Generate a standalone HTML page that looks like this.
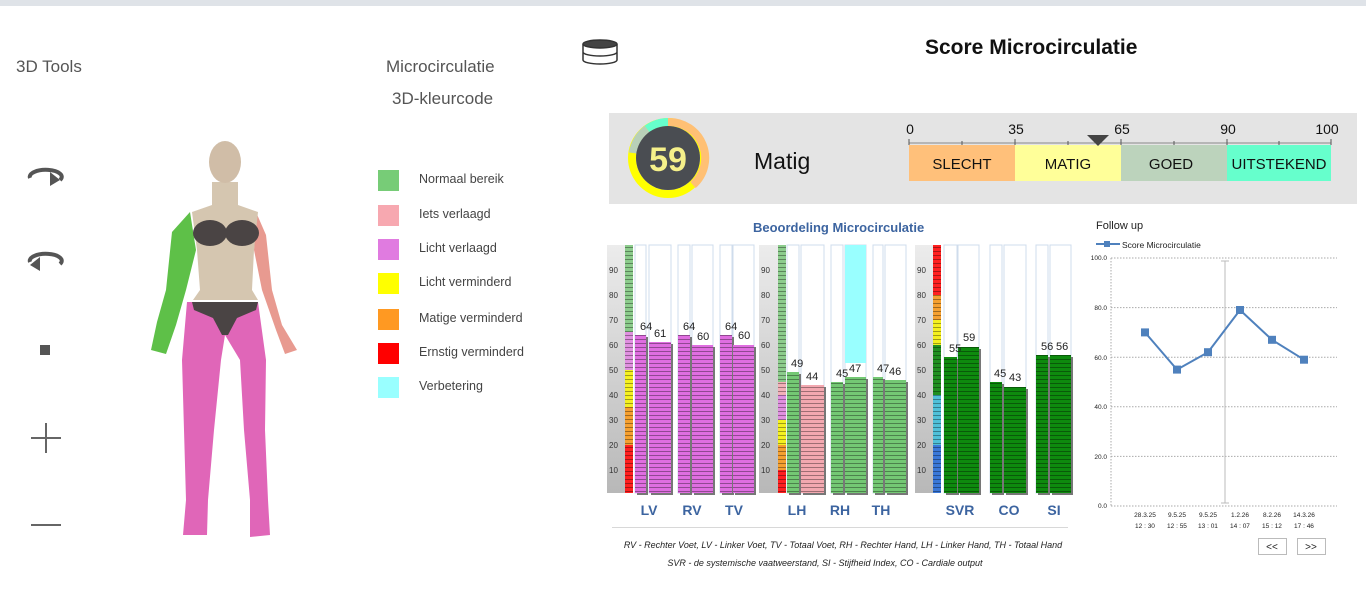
<!DOCTYPE html>
<html><head><meta charset="utf-8">
<style>
*{margin:0;padding:0;box-sizing:border-box}
body{width:1366px;height:593px;overflow:hidden;background:#fff;font-family:"Liberation Sans",sans-serif;position:relative}
.a{position:absolute;white-space:nowrap}
.lg{position:absolute;left:378px;width:21px;height:21px}
.lt{position:absolute;left:419px;font-size:12.5px;color:#444}
</style></head><body>
<div class="a" style="left:0;top:0;width:1366px;height:6px;background:#dfe3e8"></div>
<div class="a" style="left:16px;top:57px;font-size:17px;color:#555">3D Tools</div>
<div class="a" style="left:386px;top:57px;font-size:17px;color:#555">Microcirculatie</div>
<div class="a" style="left:392px;top:89px;font-size:17px;color:#555">3D-kleurcode</div>

<div class="lg" style="top:170px;background:#77cc77"></div><div class="lt" style="top:172px">Normaal bereik</div>
<div class="lg" style="top:205px;background:#f7a8b0"></div><div class="lt" style="top:207px">Iets verlaagd</div>
<div class="lg" style="top:239px;background:#e07be0"></div><div class="lt" style="top:241px">Licht verlaagd</div>
<div class="lg" style="top:273px;background:#ffff00"></div><div class="lt" style="top:275px">Licht verminderd</div>
<div class="lg" style="top:309px;background:#ff9922"></div><div class="lt" style="top:311px">Matige verminderd</div>
<div class="lg" style="top:343px;background:#ff0000"></div><div class="lt" style="top:345px">Ernstig verminderd</div>
<div class="lg" style="top:377px;background:#99ffff"></div><div class="lt" style="top:379px">Verbetering</div>

<svg class="a" style="left:0;top:0" width="640" height="593">
 <g fill="none" stroke="#555" stroke-width="4">
  <path d="M30 178 A16 7 0 1 1 60 180"/><path d="M30 262 A16 7 0 1 1 60 264"/>
 </g>
 <path d="M50 172 l10 8 l-10 6z" fill="#555"/><path d="M40 257 l-10 8 l10 6z" fill="#555"/>
 <rect x="40" y="345" width="10" height="10" fill="#555"/>
 <path d="M31 438 h30 M46 423 v30 M31 525 h30" stroke="#666" stroke-width="2"/>
 <!-- body -->
 <path d="M187 302 L258 302 L266 360 L265 430 L268 500 L270 535 L250 537 L250 500 L244 430 L240 360 L225 335 L221 360 L214 430 L208 500 L207 535 L183 535 L186 500 L184 430 L182 360Z" fill="#e066b8"/>
 <path d="M190 212 L172 232 L166 290 L157 322 L151 350 L166 354 L176 325 L186 290 L196 250Z" fill="#5ec048"/>
 <path d="M256 212 L266 235 L272 290 L282 325 L297 350 L285 354 L276 330 L262 290 L254 250Z" fill="#e89a90"/>
 <path d="M212 182 L212 205 L192 212 L197 250 L200 290 L193 300 L258 300 L252 290 L254 250 L258 212 L238 205 L238 182Z" fill="#d5c6b0"/>
 <ellipse cx="225" cy="162" rx="16" ry="21" fill="#d0bda7"/>
 <ellipse cx="210" cy="233" rx="17" ry="13" fill="#4a4444"/><ellipse cx="242" cy="233" rx="17" ry="13" fill="#4a4444"/>
 <path d="M192 302 L258 302 L256 310 L237 318 L228 335 L222 335 L213 318 L194 310Z" fill="#4a4444"/>
 <!-- stack icon -->
 <g fill="none" stroke="#333" stroke-width="1.5"><ellipse cx="600" cy="44" rx="17" ry="4" fill="#444"/><path d="M583 44 v8 a17 4 0 0 0 34 0 v-8 M583 52 v8 a17 4 0 0 0 34 0 v-8"/></g>
</svg>

<div class="a" style="left:925px;top:36px;font-size:21px;font-weight:bold;color:#111">Score Microcirculatie</div>

<div class="a" style="left:609px;top:113px;width:748px;height:91px;background:#e4e4e4"></div>
<svg class="a" style="left:609px;top:113px" width="748" height="91">
 <circle cx="59" cy="45" r="36" fill="none" stroke="#ffff00" stroke-width="8"/>
 <path d="M59 9 A36 36 0 0 1 84 72" fill="none" stroke="#ffc074" stroke-width="8"/>
 <path d="M38 16 A36 36 0 0 1 59 9" fill="none" stroke="#66ffcc" stroke-width="8"/>
 <path d="M24 40 A36 36 0 0 1 38 16" fill="none" stroke="#b8d0b8" stroke-width="8"/>
 <circle cx="59" cy="45" r="32" fill="#4a4d52"/>
 <text x="59" y="58" text-anchor="middle" font-size="34" font-weight="bold" fill="#f5f08a" font-family="Liberation Sans">59</text>
 <text x="145" y="56" font-size="23" fill="#111" font-family="Liberation Sans">Matig</text>
 <rect x="300" y="32" width="106" height="36" fill="#ffc07a"/>
 <rect x="406" y="32" width="106" height="36" fill="#ffff99"/>
 <rect x="512" y="32" width="106" height="36" fill="#bcd3bc"/>
 <rect x="618" y="32" width="104" height="36" fill="#66ffcc"/>
 <g font-family="Liberation Sans" font-size="15" fill="#111" text-anchor="middle">
  <text x="353" y="56">SLECHT</text><text x="459" y="56">MATIG</text><text x="562" y="56">GOED</text><text x="670" y="56">UITSTEKEND</text>
 </g>
 <path d="M300 30 H722" stroke="#888"/>
 <g stroke="#555"><path d="M300 26v6M353 28v4M406 26v6M459 28v4M512 26v6M565 28v4M618 26v6M670 28v4M722 26v6"/></g>
 <g font-family="Liberation Sans" font-size="14" fill="#111" text-anchor="middle">
  <text x="301" y="21">0</text><text x="407" y="21">35</text><text x="513" y="21">65</text><text x="619" y="21">90</text><text x="718" y="21">100</text>
 </g>
 <path d="M478 22 h22 l-11 11z" fill="#444"/>
</svg>

<div class="a" style="left:753px;top:220px;font-size:13px;font-weight:bold;color:#3c64a0">Beoordeling Microcirculatie</div>

<svg class="a" style="left:0;top:0" width="1366" height="593" font-family="Liberation Sans">
 <defs>
  <pattern id="st" width="4" height="4" patternUnits="userSpaceOnUse"><rect width="4" height="4" fill="none"/><rect y="3" width="4" height="1" fill="#000" opacity="0.35"/></pattern>
  <linearGradient id="gp" x1="0" x2="0" y1="0" y2="1"><stop offset="0" stop-color="#ececec"/><stop offset="1" stop-color="#b8b8b8"/></linearGradient>
 </defs>
 <rect x="607" y="245" width="18" height="248" fill="url(#gp)"/>
 <rect x="759" y="245" width="19" height="248" fill="url(#gp)"/>
 <rect x="915" y="245" width="18" height="248" fill="url(#gp)"/>
 <rect x="625" y="445" width="8" height="48" fill="#ff2020"/>
 <rect x="625" y="407" width="8" height="38" fill="#f5a030"/>
 <rect x="625" y="370" width="8" height="37" fill="#f4f020"/>
 <rect x="625" y="332" width="8" height="38" fill="#e090e0"/>
 <rect x="625" y="245" width="8" height="87" fill="#8ccc8c"/>
 <rect x="625" y="245" width="8" height="248" fill="url(#st)"/>
 <rect x="778" y="470" width="8" height="23" fill="#ff2020"/>
 <rect x="778" y="445" width="8" height="25" fill="#f5a030"/>
 <rect x="778" y="420" width="8" height="25" fill="#f4f020"/>
 <rect x="778" y="395" width="8" height="25" fill="#e090e0"/>
 <rect x="778" y="382" width="8" height="13" fill="#f3b0b8"/>
 <rect x="778" y="245" width="8" height="137" fill="#8ccc8c"/>
 <rect x="778" y="245" width="8" height="248" fill="url(#st)"/>
 <rect x="933" y="445" width="8" height="48" fill="#3a78d8"/>
 <rect x="933" y="395" width="8" height="50" fill="#50c0d8"/>
 <rect x="933" y="345" width="8" height="50" fill="#209020"/>
 <rect x="933" y="320" width="8" height="25" fill="#f4f020"/>
 <rect x="933" y="295" width="8" height="25" fill="#f5a030"/>
 <rect x="933" y="245" width="8" height="50" fill="#ff2020"/>
 <rect x="933" y="245" width="8" height="248" fill="url(#st)"/>
 <g font-size="8" fill="#333">
  <g id="tk"><text x="609" y="273">90</text><text x="609" y="298">80</text><text x="609" y="323">70</text><text x="609" y="348">60</text><text x="609" y="373">50</text><text x="609" y="398">40</text><text x="609" y="423">30</text><text x="609" y="448">20</text><text x="609" y="473">10</text></g>
  <use href="#tk" x="152"/><use href="#tk" x="308"/>
 </g>
 <g fill="#fff" stroke="#cfdcec">
  <rect x="635" y="245" width="11" height="248"/><rect x="649" y="245" width="22" height="248"/>
  <rect x="678" y="245" width="12" height="248"/><rect x="692" y="245" width="21" height="248"/>
  <rect x="720" y="245" width="12" height="248"/><rect x="733" y="245" width="21" height="248"/>
  <rect x="787" y="245" width="12" height="248"/><rect x="801" y="245" width="23" height="248"/>
  <rect x="831" y="245" width="12" height="248"/><rect x="845" y="245" width="21" height="248"/>
  <rect x="873" y="245" width="10" height="248"/><rect x="885" y="245" width="21" height="248"/>
  <rect x="944" y="245" width="13" height="248"/><rect x="958" y="245" width="21" height="248"/>
  <rect x="990" y="245" width="12" height="248"/><rect x="1004" y="245" width="22" height="248"/>
  <rect x="1036" y="245" width="12" height="248"/><rect x="1050" y="245" width="21" height="248"/>
 </g>
 <rect x="845" y="245" width="21" height="118" fill="#99ffff"/>
 <g>
  <g fill="#777" transform="translate(2,2)">
   <rect x="635" y="335" width="11" height="158"/><rect x="649" y="342" width="22" height="151"/>
   <rect x="678" y="335" width="12" height="158"/><rect x="692" y="345" width="21" height="148"/>
   <rect x="720" y="335" width="12" height="158"/><rect x="733" y="345" width="21" height="148"/>
   <rect x="787" y="372" width="12" height="121"/><rect x="801" y="385" width="23" height="108"/>
   <rect x="831" y="382" width="12" height="111"/><rect x="845" y="377" width="21" height="116"/>
   <rect x="873" y="377" width="10" height="116"/><rect x="885" y="380" width="21" height="113"/>
   <rect x="944" y="357" width="13" height="136"/><rect x="958" y="347" width="21" height="146"/>
   <rect x="990" y="382" width="12" height="111"/><rect x="1004" y="387" width="22" height="106"/>
   <rect x="1036" y="355" width="12" height="138"/><rect x="1050" y="355" width="21" height="138"/>
  </g>
  <g fill="#df6ee0"><rect x="635" y="335" width="11" height="158"/><rect x="649" y="342" width="22" height="151"/>
   <rect x="678" y="335" width="12" height="158"/><rect x="692" y="345" width="21" height="148"/>
   <rect x="720" y="335" width="12" height="158"/><rect x="733" y="345" width="21" height="148"/></g>
  <g fill="#74c874"><rect x="787" y="372" width="12" height="121"/>
   <rect x="831" y="382" width="12" height="111"/><rect x="845" y="377" width="21" height="116"/>
   <rect x="873" y="377" width="10" height="116"/><rect x="885" y="380" width="21" height="113"/></g>
  <rect x="801" y="385" width="23" height="108" fill="#f3a8b0"/>
  <g fill="#0e8a0e"><rect x="944" y="357" width="13" height="136"/><rect x="958" y="347" width="21" height="146"/>
   <rect x="990" y="382" width="12" height="111"/><rect x="1004" y="387" width="22" height="106"/>
   <rect x="1036" y="355" width="12" height="138"/><rect x="1050" y="355" width="21" height="138"/></g>
 </g>
 <g fill="url(#st)">
   <rect x="635" y="335" width="11" height="158"/><rect x="649" y="342" width="22" height="151"/>
   <rect x="678" y="335" width="12" height="158"/><rect x="692" y="345" width="21" height="148"/>
   <rect x="720" y="335" width="12" height="158"/><rect x="733" y="345" width="21" height="148"/>
   <rect x="787" y="372" width="12" height="121"/><rect x="801" y="385" width="23" height="108"/>
   <rect x="831" y="382" width="12" height="111"/><rect x="845" y="377" width="21" height="116"/>
   <rect x="873" y="377" width="10" height="116"/><rect x="885" y="380" width="21" height="113"/>
   <rect x="944" y="357" width="13" height="136"/><rect x="958" y="347" width="21" height="146"/>
   <rect x="990" y="382" width="12" height="111"/><rect x="1004" y="387" width="22" height="106"/>
   <rect x="1036" y="355" width="12" height="138"/><rect x="1050" y="355" width="21" height="138"/>
 </g>
 <g font-size="11" fill="#222">
  <text x="640" y="330">64</text><text x="654" y="337">61</text>
  <text x="683" y="330">64</text><text x="697" y="340">60</text>
  <text x="725" y="330">64</text><text x="738" y="339">60</text>
  <text x="791" y="367">49</text><text x="806" y="380">44</text>
  <text x="836" y="377">45</text><text x="849" y="372">47</text>
  <text x="877" y="372">47</text><text x="889" y="375">46</text>
  <text x="949" y="352">55</text><text x="963" y="341">59</text>
  <text x="994" y="377">45</text><text x="1009" y="381">43</text>
  <text x="1041" y="350">56</text><text x="1056" y="350">56</text>
 </g>
 <g font-size="14" font-weight="bold" fill="#3c64a0" text-anchor="middle">
  <text x="649" y="515">LV</text><text x="692" y="515">RV</text><text x="734" y="515">TV</text>
  <text x="797" y="515">LH</text><text x="840" y="515">RH</text><text x="881" y="515">TH</text>
  <text x="960" y="515">SVR</text><text x="1009" y="515">CO</text><text x="1054" y="515">SI</text>
 </g>
 <path d="M612 527.5 H1068" stroke="#d8d8d8"/>
 <g font-size="9" font-style="italic" fill="#222" text-anchor="middle">
  <text x="843" y="548">RV - Rechter Voet, LV - Linker Voet, TV - Totaal Voet, RH - Rechter Hand, LH - Linker Hand, TH - Totaal Hand</text>
  <text x="825" y="566">SVR - de systemische vaatweerstand,      SI - Stijfheid Index,      CO - Cardiale output</text>
 </g>

 <text x="1096" y="229" font-size="11" fill="#222">Follow up</text>
 <path d="M1096 244 H1120" stroke="#4f81bd" stroke-width="2"/><rect x="1104" y="241" width="6" height="6" fill="#4f81bd"/>
 <text x="1122" y="248" font-size="8.5" fill="#222">Score Microcirculatie</text>
 <g stroke="#aaa" stroke-dasharray="1.5 1.5">
  <path d="M1111 258H1337M1111 307.6H1337M1111 357.2H1337M1111 406.8H1337M1111 456.4H1337M1111 506H1337M1111 258V506"/>
 </g>
 <g font-size="6.5" fill="#222" text-anchor="end">
  <text x="1107" y="260">100.0</text><text x="1107" y="310">80.0</text><text x="1107" y="360">60.0</text><text x="1107" y="409">40.0</text><text x="1107" y="459">20.0</text><text x="1107" y="508">0.0</text>
 </g>
 <path d="M1225 261V503M1221 261h8M1221 503h8" stroke="#bbb"/>
 <polyline points="1145,332.4 1177,369.6 1208,352.2 1240,310 1272,339.8 1304,359.7" fill="none" stroke="#4f81bd" stroke-width="2"/>
 <g fill="#4f81bd"><rect x="1141" y="328.4" width="8" height="8"/><rect x="1173" y="365.6" width="8" height="8"/><rect x="1204" y="348.2" width="8" height="8"/><rect x="1236" y="306" width="8" height="8"/><rect x="1268" y="335.8" width="8" height="8"/><rect x="1300" y="355.7" width="8" height="8"/></g>
 <g font-size="6.5" fill="#222" text-anchor="middle">
  <text x="1145" y="517">28.3.25</text><text x="1177" y="517">9.5.25</text><text x="1208" y="517">9.5.25</text><text x="1240" y="517">1.2.26</text><text x="1272" y="517">8.2.26</text><text x="1304" y="517">14.3.26</text>
  <text x="1145" y="528">12 : 30</text><text x="1177" y="528">12 : 55</text><text x="1208" y="528">13 : 01</text><text x="1240" y="528">14 : 07</text><text x="1272" y="528">15 : 12</text><text x="1304" y="528">17 : 46</text>
 </g>
 <rect x="1258.5" y="538.5" width="28" height="16" fill="#fff" stroke="#bbb"/>
 <rect x="1297.5" y="538.5" width="28" height="16" fill="#fff" stroke="#bbb"/>
 <text x="1272" y="550" font-size="10" text-anchor="middle" fill="#222">&lt;&lt;</text>
 <text x="1311" y="550" font-size="10" text-anchor="middle" fill="#222">&gt;&gt;</text>
</svg>
</body></html>
